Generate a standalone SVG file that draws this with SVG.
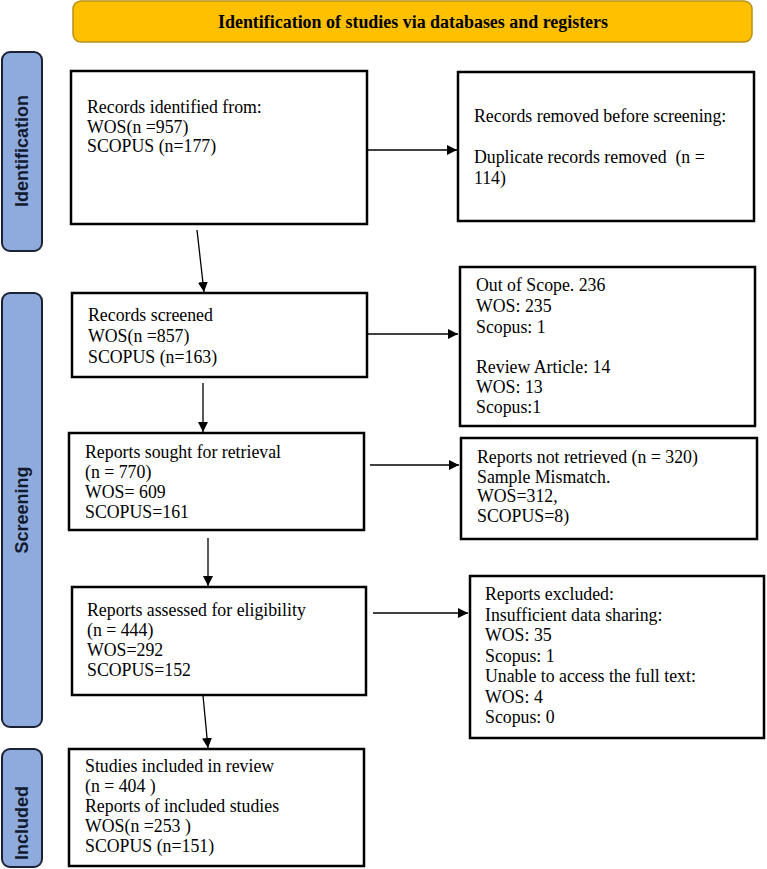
<svg xmlns="http://www.w3.org/2000/svg" width="767" height="869" viewBox="0 0 767 869">
<style>
.box{fill:#fff;stroke:#000;stroke-width:2.5}
.side{fill:#8FAADC;stroke:#1B2233;stroke-width:2}
.t{font-family:"Liberation Serif","Times New Roman",serif;font-size:17.8px;fill:#000}
.st{font-family:"Liberation Sans",Arial,sans-serif;font-size:18px;font-weight:bold;fill:#111a2e}
.ln{stroke:#000;stroke-width:1.3;fill:none;marker-end:url(#ah)}
</style>
<defs>
<marker id="ah" viewBox="0 0 10 10" refX="10" refY="5" markerWidth="10" markerHeight="10" markerUnits="userSpaceOnUse" orient="auto">
<path d="M0,0 L10,5 L0,10 Z" fill="#000"/>
</marker>
</defs>
<g id="header">
<rect x="73" y="1" width="679" height="41" rx="8" fill="#FFC000" stroke="#B8911A" stroke-width="1.5"/>
<text x="413" y="28" text-anchor="middle" font-family="Liberation Serif,'Times New Roman',serif" font-size="18" font-weight="bold" textLength="390" lengthAdjust="spacingAndGlyphs">Identification of studies via databases and registers</text>
</g>
<g id="side-identification">
<rect class="side" x="2" y="52" width="40" height="199" rx="8"/>
<text class="st" transform="translate(28,151) rotate(-90)" text-anchor="middle">Identification</text>
</g>
<g id="side-screening">
<rect class="side" x="2" y="293" width="40" height="434" rx="8"/>
<text class="st" transform="translate(28,510) rotate(-90)" text-anchor="middle">Screening</text>
</g>
<g id="side-included">
<rect class="side" x="2" y="749" width="40" height="118" rx="8"/>
<text class="st" transform="translate(28,823) rotate(-90)" text-anchor="middle">Included</text>
</g>
<g id="connectors">
<line class="ln" x1="367" y1="150" x2="457" y2="150"/>
<line class="ln" x1="197" y1="230" x2="204" y2="292"/>
<line class="ln" x1="367" y1="334" x2="458" y2="334"/>
<line class="ln" x1="203" y1="383" x2="203" y2="432"/>
<line class="ln" x1="370" y1="465" x2="459" y2="465"/>
<line class="ln" x1="208" y1="538" x2="208" y2="586"/>
<line class="ln" x1="373" y1="613" x2="468" y2="613"/>
<line class="ln" x1="202" y1="685" x2="208" y2="748"/>
</g>
<g id="n-identified">
<rect class="box" x="71" y="71" width="296" height="153"/>
<text class="t" x="87" y="113">Records identified from:</text>
<text class="t" x="87" y="132.5">WOS(n =957)</text>
<text class="t" x="87" y="152">SCOPUS (n=177)</text>
</g>
<g id="n-removed">
<rect class="box" x="458" y="72" width="296" height="149"/>
<text class="t" x="474" y="122">Records removed before screening:</text>
<text class="t" x="474" y="163" xml:space="preserve">Duplicate records removed  (n =</text>
<text class="t" x="474" y="184">114)</text>
</g>
<g id="n-screened">
<rect class="box" x="72" y="293" width="295" height="84"/>
<text class="t" x="88" y="321">Records screened</text>
<text class="t" x="88" y="342">WOS(n =857)</text>
<text class="t" x="88" y="363">SCOPUS (n=163)</text>
</g>
<g id="n-outofscope">
<rect class="box" x="460" y="267" width="295" height="159"/>
<text class="t" x="476" y="291">Out of Scope. 236</text>
<text class="t" x="476" y="312">WOS: 235</text>
<text class="t" x="476" y="333">Scopus: 1</text>
<text class="t" x="476" y="373">Review Article: 14</text>
<text class="t" x="476" y="393">WOS: 13</text>
<text class="t" x="476" y="413">Scopus:1</text>
</g>
<g id="n-sought">
<rect class="box" x="69" y="433" width="295" height="97"/>
<text class="t" x="85" y="458">Reports sought for retrieval</text>
<text class="t" x="85" y="478">(n = 770)</text>
<text class="t" x="85" y="498">WOS= 609</text>
<text class="t" x="85" y="518">SCOPUS=161</text>
</g>
<g id="n-notretrieved">
<rect class="box" x="461" y="438" width="296" height="101"/>
<text class="t" x="477" y="463">Reports not retrieved (n = 320)</text>
<text class="t" x="477" y="483">Sample Mismatch.</text>
<text class="t" x="477" y="502">WOS=312,</text>
<text class="t" x="477" y="522">SCOPUS=8)</text>
</g>
<g id="n-assessed">
<rect class="box" x="72" y="587" width="294" height="108"/>
<text class="t" x="87" y="616">Reports assessed for eligibility</text>
<text class="t" x="87" y="636">(n = 444)</text>
<text class="t" x="87" y="656">WOS=292</text>
<text class="t" x="87" y="676">SCOPUS=152</text>
</g>
<g id="n-excluded">
<rect class="box" x="470" y="576" width="294" height="162"/>
<text class="t" x="485" y="600">Reports excluded:</text>
<text class="t" x="485" y="620.5">Insufficient data sharing:</text>
<text class="t" x="485" y="641">WOS: 35</text>
<text class="t" x="485" y="661.5">Scopus: 1</text>
<text class="t" x="485" y="682">Unable to access the full text:</text>
<text class="t" x="485" y="702.5">WOS: 4</text>
<text class="t" x="485" y="723">Scopus: 0</text>
</g>
<g id="n-included">
<rect class="box" x="69" y="749" width="295" height="117"/>
<text class="t" x="85" y="772">Studies included in review</text>
<text class="t" x="85" y="792">(n = 404 )</text>
<text class="t" x="85" y="812">Reports of included studies</text>
<text class="t" x="85" y="832">WOS(n =253 )</text>
<text class="t" x="85" y="852">SCOPUS (n=151)</text>
</g>
</svg>
